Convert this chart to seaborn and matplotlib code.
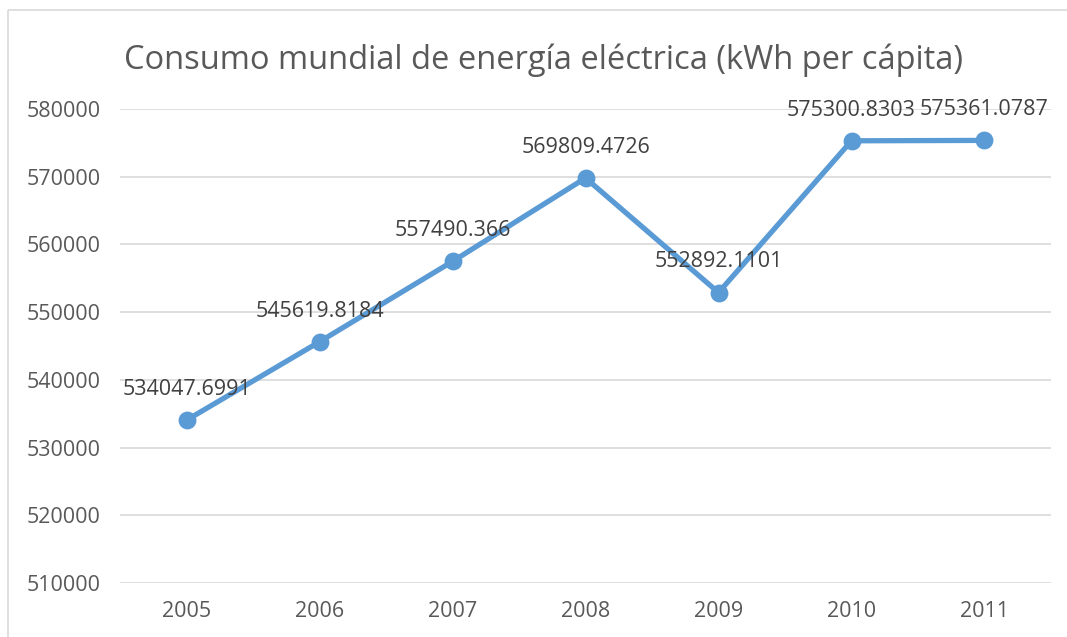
import matplotlib
matplotlib.use("Agg")
import matplotlib.pyplot as plt
from matplotlib.lines import Line2D
import seaborn as sns

years = ["2005", "2006", "2007", "2008", "2009", "2010", "2011"]
consumo = [534047.6991, 545619.8184, 557490.366, 569809.4726,
           552892.1101, 575300.8303, 575361.0787]
etiquetas = ["534047.6991", "545619.8184", "557490.366", "569809.4726",
             "552892.1101", "575300.8303", "575361.0787"]
y_ticks = [510000, 520000, 530000, 540000, 550000, 560000, 570000, 580000]

sns.set_style("white")
plt.rcParams['font.family'] = ['Open Sans', 'DejaVu Sans']

gris = '#595959'
azul = '#5B9BD5'
linea = '#D9D9D9'

fig = plt.figure(figsize=(10.67, 6.37), dpi=100)
ax = fig.add_axes([0.1125, 0.0848, 0.8725, 0.7441])

sns.pointplot(x=years, y=consumo, color=azul, markers='o', markersize=10,
              linewidth=3.8, ax=ax)

for i, (v, t) in enumerate(zip(consumo, etiquetas)):
    ax.annotate(t, (i, v), xytext=(0, 22), textcoords='offset points',
                ha='center', va='center', fontsize=15.5, color='#404040')

ax.set_ylim(510000, 580000)
ax.set_xlim(-0.5, 6.5)
ax.set_yticks(y_ticks)
ax.set_yticklabels([str(v) for v in y_ticks])
ax.yaxis.grid(True, color=linea, linewidth=1.2)
ax.set_axisbelow(True)
for s in ax.spines.values():
    s.set_visible(False)
ax.tick_params(axis='both', length=0, labelsize=15.5, colors=gris)
ax.tick_params(axis='y', pad=14)
ax.tick_params(axis='x', pad=13)
ax.set_xlabel('')
ax.set_ylabel('')

fig.text(0.509, 0.906, 'Consumo mundial de energía eléctrica (kWh per cápita)',
         ha='center', va='center', fontsize=23.5, color=gris)

# marco del gráfico (solo izquierda y arriba quedan dentro de la imagen)
x0 = 8 / 1067
y0 = 1 - 10 / 637
fig.add_artist(Line2D([x0, x0], [0, y0], transform=fig.transFigure,
                      color=linea, linewidth=1.2, solid_capstyle='butt'))
fig.add_artist(Line2D([x0, 1.05], [y0, y0], transform=fig.transFigure,
                      color=linea, linewidth=1.2, solid_capstyle='butt',
                      clip_on=False))

fig.patch.set_edgecolor('white')
fig.patch.set_linewidth(0)
fig.savefig('out.png', dpi=100, facecolor='white', edgecolor='white')
